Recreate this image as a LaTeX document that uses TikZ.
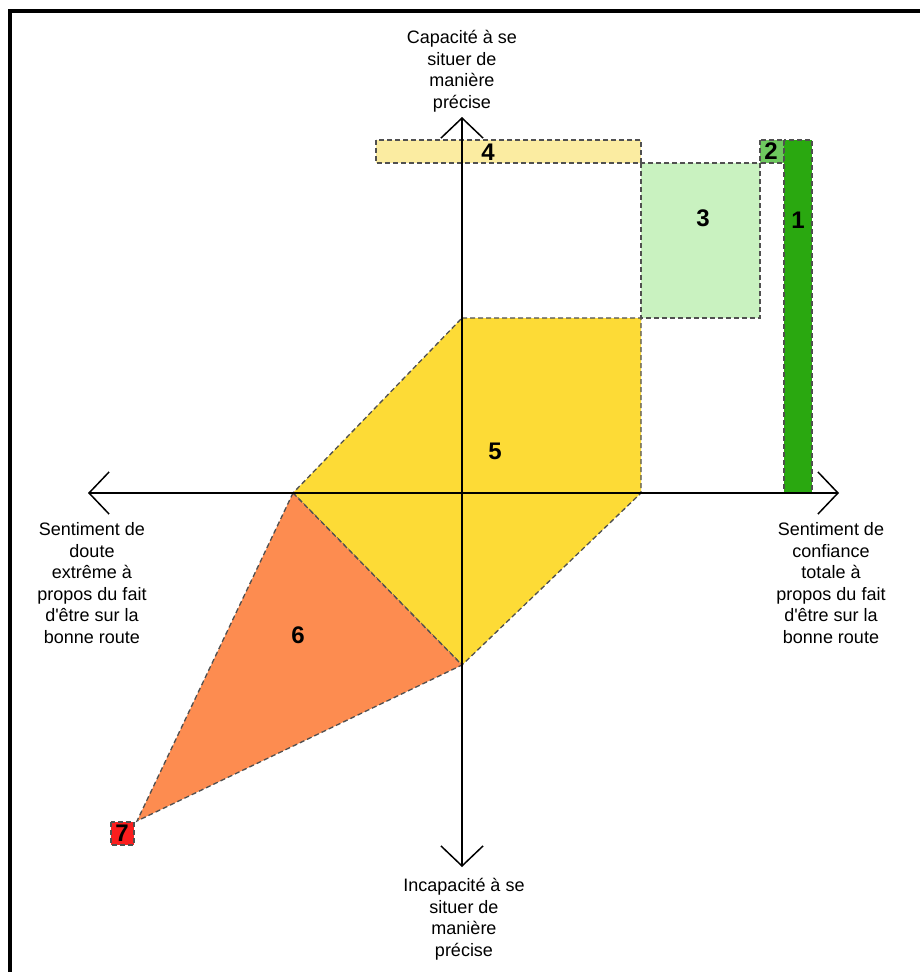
\documentclass[tikz,border=0pt]{standalone}
\usepackage{fontspec}
\setmainfont{Liberation Sans}[Ligatures=TeXOff]
\usetikzlibrary{arrows.meta}
\definecolor{dashgray}{RGB}{80,80,80}
\definecolor{cfour}{RGB}{251,236,161}
\definecolor{cthree}{RGB}{201,242,192}
\definecolor{ctwo}{RGB}{110,200,95}
\definecolor{cone}{RGB}{42,168,16}
\definecolor{cfive}{RGB}{253,219,54}
\definecolor{csix}{RGB}{253,140,80}
\definecolor{cseven}{RGB}{250,30,30}
\begin{document}
\begin{tikzpicture}[x=1pt,y=-1pt,
  region/.style={draw=dashgray, dash pattern=on 5pt off 3pt, line width=1.3pt},
  num/.style={font=\fontsize{24}{24}\selectfont\bfseries, inner sep=0pt},
  lab/.style={align=center, font=\fontsize{18}{21.5}\selectfont, inner sep=0pt},
  axis/.style={line width=1.5pt, {Straight Barb[length=20pt,width=42pt]}-{Straight Barb[length=20pt,width=42pt]}}]
\useasboundingbox (0,0) rectangle (920,972);
% frame
\draw[line width=4pt] (10,972) -- (10,11) -- (920,11);
% regions
\filldraw[region, fill=cfour] (376,140) rectangle (641,163);
\filldraw[region, fill=cthree] (641,163) rectangle (760,318);
\filldraw[region, fill=ctwo] (760,140) rectangle (784,163);
\filldraw[region, fill=cone] (784,140) rectangle (812,493);
\filldraw[region, fill=cfive] (462,318) -- (641,318) -- (641,493) -- (462,665) -- (293,493) -- cycle;
\filldraw[region, fill=csix] (293,493) -- (462,665) -- (137,821) -- cycle;
\filldraw[region, fill=cseven] (111,822) rectangle (134,845);
% axes
\coordinate (ytop) at (462,117);
\coordinate (ybot) at (462,867);
\coordinate (xleft) at (88,493);
\coordinate (xright) at (839,493);
\draw[axis] (ybot) -- (ytop);
\draw[axis] (xleft) -- (xright);
% numbers
\node[num] (n4) at (488,152) {4};
\node[num] (n3) at (703,218) {3};
\node[num] (n2) at (771,151) {2};
\node[num] (n1) at (798,220) {1};
\node[num] (n5) at (495,451) {5};
\node[num] (n6) at (298,635) {6};
\node[num] (n7) at (122,833) {7};
% axis labels
\node[lab] (ltop) at (462,71) {Capacité à se\\situer de\\manière\\précise};
\node[lab] (lbot) at (464,919) {Incapacité à se\\situer de\\manière\\précise};
\node[lab] (lright) at (831,583) {Sentiment de\\confiance\\totale à\\propos du fait\\d'être sur la\\bonne route};
\node[lab] (lleft) at (92,583) {Sentiment de\\doute\\extrême à\\propos du fait\\d'être sur la\\bonne route};
\end{tikzpicture}
\end{document}
